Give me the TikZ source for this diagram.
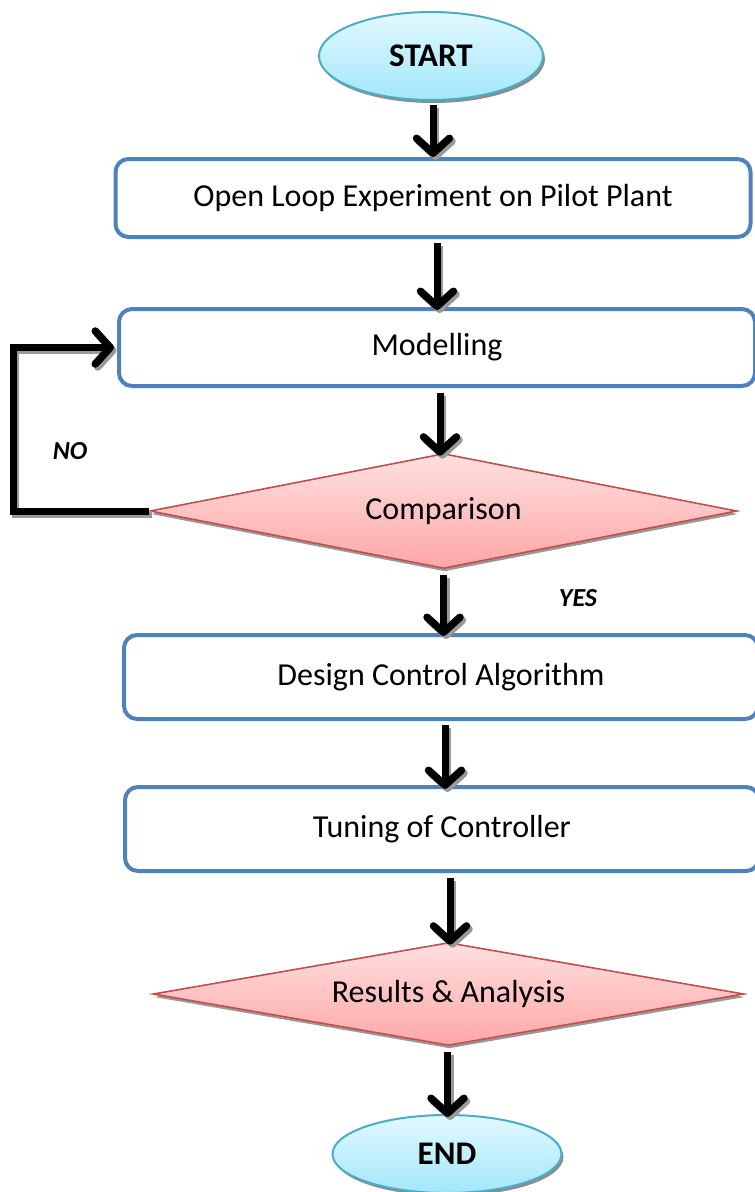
\documentclass[tikz,border=0pt]{standalone}
\usepackage{fontspec}
\setmainfont{Carlito}
\usetikzlibrary{shapes.geometric,arrows.meta,shadows}
\definecolor{boxblue}{HTML}{4F81BD}
\definecolor{cyanline}{HTML}{4BACC6}
\definecolor{cyantop}{HTML}{E2F9FF}
\definecolor{cyanbot}{HTML}{A2E7FA}
\definecolor{redline}{HTML}{C0504D}
\definecolor{pinktop}{HTML}{FFE0E0}
\definecolor{pinkbot}{HTML}{FFA6A6}
\tikzset{
  txt/.style={font=\fontsize{32}{36}\selectfont},
  terminal/.style={ellipse, draw=cyanline, line width=2pt, top color=cyantop, bottom color=cyanbot,
     drop shadow={shadow xshift=2pt, shadow yshift=-3pt, fill=black!45, opacity=1},
     font=\fontsize{33}{36}\selectfont\bfseries},
  stepbox/.style={rectangle, rounded corners=13pt, draw=boxblue, line width=4pt, fill=white, txt},
  decision/.style={diamond, draw=redline, line width=1.6pt, top color=pinktop, bottom color=pinkbot,
     drop shadow={shadow xshift=1pt, shadow yshift=-3pt, fill=black!40, opacity=1}, inner sep=0pt, txt},
  arrbase/.style={line width=7pt, line cap=butt, line join=miter,
     -{Straight Barb[length=15pt, width=33pt, line width=7.5pt, line cap=round, line join=round]}},
  arr/.style={arrbase, draw=black},
  arrsh/.style={arrbase, draw=black!40, transform canvas={xshift=2.5pt, yshift=-3pt}},
  lbl/.style={font=\fontsize{26}{30}\selectfont\bfseries\itshape}
}
\newcommand\shadedarrow[1]{\draw[arrsh] #1; \draw[arr] #1;}
\begin{document}
\begin{tikzpicture}[x=1pt,y=-1pt]
\useasboundingbox (0,0) rectangle (755,1192);
\clip (0,0) rectangle (755,1192);
\node[terminal, minimum width=224pt, minimum height=88pt] (start) at (431,56) {START};
\node[stepbox, minimum width=635pt, minimum height=78pt] (b1) at (433,198) {Open Loop Experiment on Pilot Plant};
\node[stepbox, minimum width=636pt, minimum height=77pt] (b2) at (437,347.5) {Modelling};
\node[decision, aspect=5.1, minimum width=587pt, minimum height=115pt] (d1) at (443.5,511) {Comparison};
\node[stepbox, minimum width=634pt, minimum height=84pt] (b3) at (441,677) {Design Control Algorithm};
\node[stepbox, minimum width=634pt, minimum height=84pt] (b4) at (442,829) {Tuning of Controller};
\node[decision, aspect=5.7, minimum width=591pt, minimum height=103pt] (d2) at (448.5,994) {Results \& Analysis};
\node[terminal, minimum width=229pt, minimum height=78pt] (end) at (447,1154) {END};
\node[lbl] (no) at (70,451) {NO};
\node[lbl] (yes) at (578,598) {YES};
\shadedarrow{([xshift=2pt,yshift=-4pt]start.south) -- ([xshift=2pt]start.south |- b1.north)}
\shadedarrow{([xshift=4pt,yshift=-4pt]b1.south) -- ([xshift=4pt,yshift=-3pt]b1.south |- b2.north)}
\shadedarrow{([xshift=3pt,yshift=-5pt]b2.south) -- ([xshift=3pt,yshift=-3pt]b2.south |- d1.north)}
\shadedarrow{([yshift=-6pt]d1.south) -- ([yshift=-3pt]d1.south |- b3.north)}
\shadedarrow{([xshift=4pt,yshift=-4pt]b3.south) -- ([xshift=4pt,yshift=-4pt]b3.south |- b4.north)}
\shadedarrow{([xshift=8pt,yshift=-5pt]b4.south) -- ([xshift=8pt,yshift=-3pt]b4.south |- d2.north)}
\shadedarrow{([xshift=-1pt,yshift=-6pt]d2.south) -- ([xshift=-1pt,yshift=-3pt]d2.south |- end.north)}
\shadedarrow{(d1.west) -- ++(-136,0) |- ([xshift=-3pt]b2.west)}
\end{tikzpicture}
\end{document}
